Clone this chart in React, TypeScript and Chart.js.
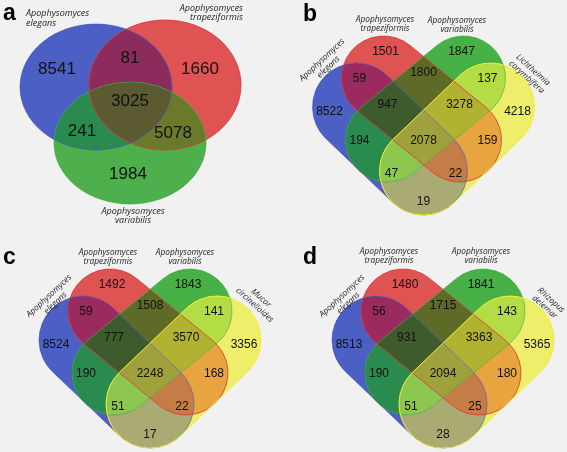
import React, { useEffect, useRef } from 'react';
import { Chart, registerables } from 'chart.js';

Chart.register(...registerables);

const W = 567;
const H = 452;

// ---------- data ----------
const panelLetters = ['a', 'b', 'c', 'd'];
const genus = 'Apophysomyces';
const setNamesA = [[genus, 'elegans'], [genus, 'trapeziformis'], [genus, 'variabilis']];
const setNamesB = [[genus, 'elegans'], [genus, 'trapeziformis'], [genus, 'variabilis'], ['Lichtheimia', 'corymbifera']];
const setNamesC = [[genus, 'elegans'], [genus, 'trapeziformis'], [genus, 'variabilis'], ['Mucor', 'circinelloides']];
const setNamesD = [[genus, 'elegans'], [genus, 'trapeziformis'], [genus, 'variabilis'], ['Rhizopus', 'delemar']];

// region masks: bit0 = set1, bit1 = set2, bit2 = set3, bit3 = set4
const masks3 = [1, 2, 3, 4, 5, 6, 7];
const masks4 = [1, 2, 3, 4, 5, 6, 7, 8, 9, 10, 11, 12, 13, 14, 15];
const countsA = [8541, 1660, 81, 1984, 241, 5078, 3025];
const countsB = [8522, 1501, 59, 1847, 194, 1800, 947, 4218, 19, 159, 22, 137, 47, 3278, 2078];
const countsC = [8524, 1492, 59, 1843, 190, 1508, 777, 3356, 17, 168, 22, 141, 51, 3570, 2248];
const countsD = [8513, 1480, 56, 1841, 190, 1715, 931, 5365, 28, 180, 25, 143, 51, 3363, 2094];

// ---------- layout (geometry in chart units) ----------
const BG = '#f1f1f1';
const shapes3 = [
  { kind: 'ellipse', cx: 96, cy: 87, rx: 76, ry: 63 },
  { kind: 'ellipse', cx: 165, cy: 85, rx: 76, ry: 65 },
  { kind: 'ellipse', cx: 130, cy: 143, rx: 76, ry: 61 },
];
const labelPos3: Record<number, [number, number]> = {
  1: [57, 68], 2: [200, 68], 3: [130, 57], 4: [128, 173], 5: [82, 130], 6: [173, 132], 7: [130, 100],
};
const shapes4 = [
  { kind: 'capsule', x1: -67, y1: -33, x2: 0, y2: 31, r: 44 },
  { kind: 'capsule', x1: -40, y1: -62, x2: 36, y2: 0, r: 42 },
  { kind: 'capsule', x1: 40, y1: -62, x2: -36, y2: 0, r: 42 },
  { kind: 'capsule', x1: 67, y1: -33, x2: 0, y2: 31, r: 44 },
];
const labelPos4: Record<number, [number, number]> = {
  1: [-94, -29], 2: [-38, -89], 3: [-64, -62], 4: [38, -89], 5: [-64, 0], 6: [0, -68], 7: [-36, -36],
  8: [94, -29], 9: [0, 61], 10: [64, 0], 11: [32, 33], 12: [64, -62], 13: [-32, 33], 14: [36, -36], 15: [0, 0],
};
const panelCenters: [number, number][] = [[423.5, 140], [150, 373], [443, 373]];
const colors3: Record<number, string> = {
  1: '#4b5fc5', 2: '#e05353', 3: '#8c2c5c', 4: '#4db04d', 5: '#2a8b4e', 6: '#6b7a2a', 7: '#5b5a31',
};
const colors4: Record<number, string> = {
  1: '#4b5fc5', 2: '#e05353', 3: '#9b2b5f', 4: '#47b047', 5: '#2a8b4e', 6: '#5d6b27', 7: '#3d5b2c',
  8: '#eeee6a', 9: '#a9ab72', 10: '#e8a43e', 11: '#c67c47', 12: '#b4dc44', 13: '#8dc74f', 14: '#b1b232', 15: '#9fa23c',
};
const strokes = ['rgba(50,70,185,0.55)', 'rgba(215,40,40,0.75)', 'rgba(40,160,40,0.55)', 'rgba(240,240,40,0.95)'];
const letterPos: [number, number][] = [[3, 20], [303, 21], [3, 264], [303, 264]];

type SetLabel = { x: number; y: number; rot: number; align: CanvasTextAlign; lh: number };
const setLabelsA: SetLabel[] = [
  { x: 26, y: 13, rot: 0, align: 'left', lh: 10 },
  { x: 243, y: 8, rot: 0, align: 'right', lh: 9.5 },
  { x: 133, y: 211, rot: 0, align: 'center', lh: 9.5 },
];
const setLabels4: SetLabel[][] = [
  [
    { x: 322, y: 60, rot: -43, align: 'center', lh: 9.5 },
    { x: 385, y: 20, rot: 0, align: 'center', lh: 8.5 },
    { x: 457, y: 21, rot: 0, align: 'center', lh: 8.5 },
    { x: 533, y: 70, rot: 42, align: 'center', lh: 9.5 },
  ],
  [
    { x: 49, y: 296, rot: -43, align: 'center', lh: 9.5 },
    { x: 108, y: 253, rot: 0, align: 'center', lh: 8.5 },
    { x: 185, y: 253, rot: 0, align: 'center', lh: 8.5 },
    { x: 261, y: 298, rot: 42, align: 'center', lh: 9.5 },
  ],
  [
    { x: 342, y: 296, rot: -43, align: 'center', lh: 9.5 },
    { x: 389, y: 252, rot: 0, align: 'center', lh: 8.5 },
    { x: 481, y: 252, rot: 0, align: 'center', lh: 8.5 },
    { x: 551, y: 300, rot: 42, align: 'center', lh: 9.5 },
  ],
];

// ---------- helpers ----------
function shapePath(ctx: CanvasRenderingContext2D, s: any, ox: number, oy: number, px: (v: number) => number, py: (v: number) => number) {
  ctx.beginPath();
  if (s.kind === 'ellipse') {
    const cx = px(ox + s.cx), cy = py(oy + s.cy);
    const rx = Math.abs(px(ox + s.cx + s.rx) - cx), ry = Math.abs(py(oy + s.cy + s.ry) - cy);
    ctx.ellipse(cx, cy, rx, ry, 0, 0, Math.PI * 2);
  } else {
    const x1 = px(ox + s.x1), y1 = py(oy + s.y1), x2 = px(ox + s.x2), y2 = py(oy + s.y2);
    const r = Math.abs(px(ox + s.r) - px(ox));
    const t = Math.atan2(y2 - y1, x2 - x1);
    ctx.arc(x2, y2, r, t - Math.PI / 2, t + Math.PI / 2);
    ctx.arc(x1, y1, r, t + Math.PI / 2, t + (3 * Math.PI) / 2);
    ctx.closePath();
  }
}

function drawVenn(chart: any, shapes: any[], masks: number[], colors: Record<number, string>, ox: number, oy: number) {
  const ctx: CanvasRenderingContext2D = chart.ctx;
  const px = (v: number) => chart.scales.x.getPixelForValue(v);
  const py = (v: number) => chart.scales.y.getPixelForValue(v);
  const off = document.createElement('canvas');
  off.width = chart.width;
  off.height = chart.height;
  const o = off.getContext('2d') as CanvasRenderingContext2D;
  masks.forEach((m) => {
    o.clearRect(0, 0, off.width, off.height);
    o.save();
    shapes.forEach((s, i) => {
      if (m & (1 << i)) {
        shapePath(o, s, ox, oy, px, py);
        o.clip();
      }
    });
    o.fillStyle = colors[m];
    o.fillRect(0, 0, off.width, off.height);
    o.restore();
    o.save();
    o.globalCompositeOperation = 'destination-out';
    shapes.forEach((s, i) => {
      if (!(m & (1 << i))) {
        shapePath(o, s, ox, oy, px, py);
        o.fill();
      }
    });
    o.restore();
    ctx.drawImage(off, 0, 0);
  });
  ctx.save();
  ctx.lineWidth = 1;
  shapes.forEach((s, i) => {
    shapePath(ctx, s, ox, oy, px, py);
    ctx.strokeStyle = strokes[i];
    ctx.stroke();
  });
  ctx.restore();
}

function drawSetLabel(ctx: CanvasRenderingContext2D, lines: string[], L: SetLabel, font: string) {
  ctx.save();
  ctx.translate(L.x, L.y);
  ctx.rotate((L.rot * Math.PI) / 180);
  ctx.font = font;
  ctx.fillStyle = '#1e1e1e';
  ctx.textAlign = L.align;
  ctx.textBaseline = 'middle';
  lines.forEach((t, k) => ctx.fillText(t, 0, k * L.lh));
  ctx.restore();
}

const vennPlugin = {
  id: 'vennPlugin',
  beforeDraw(chart: any) {
    const ctx = chart.ctx;
    ctx.save();
    ctx.fillStyle = BG;
    ctx.fillRect(0, 0, chart.width, chart.height);
    ctx.restore();
  },
  beforeDatasetsDraw(chart: any) {
    const ctx: CanvasRenderingContext2D = chart.ctx;
    drawVenn(chart, shapes3, masks3, colors3, 0, 0);
    panelCenters.forEach(([cx, cy]) => drawVenn(chart, shapes4, masks4, colors4, cx, cy));
    setNamesA.forEach((lines, i) => drawSetLabel(ctx, lines, setLabelsA[i], 'italic 9px "Open Sans"'));
    [setNamesB, setNamesC, setNamesD].forEach((names, p) =>
      names.forEach((lines, i) => drawSetLabel(ctx, lines, setLabels4[p][i], 'italic 8.3px "Open Sans"'))
    );
    ctx.save();
    ctx.fillStyle = '#000';
    ctx.font = 'bold 23px "Liberation Sans", Arial, sans-serif';
    ctx.textAlign = 'left';
    ctx.textBaseline = 'alphabetic';
    panelLetters.forEach((l, i) => ctx.fillText(l, letterPos[i][0], letterPos[i][1]));
    ctx.restore();
  },
  afterDatasetsDraw(chart: any) {
    const ctx: CanvasRenderingContext2D = chart.ctx;
    chart.data.datasets.forEach((ds: any, di: number) => {
      const meta = chart.getDatasetMeta(di);
      ctx.save();
      ctx.fillStyle = '#111';
      ctx.font = `${di === 0 ? 17 : 12}px "Liberation Sans", Arial, sans-serif`;
      ctx.textAlign = 'center';
      ctx.textBaseline = 'middle';
      meta.data.forEach((el: any, i: number) => {
        ctx.fillText(String(ds.data[i].v), el.x, el.y + 1);
      });
      ctx.restore();
    });
  },
};

function buildDatasets() {
  const dsA = {
    label: 'a',
    data: masks3.map((m, i) => ({ x: labelPos3[m][0], y: labelPos3[m][1], v: countsA[i] })),
    pointRadius: 0,
  };
  const ds4 = [countsB, countsC, countsD].map((counts, p) => ({
    label: panelLetters[p + 1],
    data: masks4.map((m, i) => ({
      x: panelCenters[p][0] + labelPos4[m][0],
      y: panelCenters[p][1] + labelPos4[m][1],
      v: counts[i],
    })),
    pointRadius: 0,
  }));
  return [dsA, ...ds4];
}

export default function App() {
  const ref = useRef<HTMLCanvasElement>(null);
  useEffect(() => {
    document.body.style.margin = '0';
    const chart = new Chart(ref.current as HTMLCanvasElement, {
      type: 'scatter',
      data: { datasets: buildDatasets() as any },
      options: {
        responsive: false,
        animation: false,
        devicePixelRatio: 1,
        layout: { padding: 0 },
        scales: {
          x: { type: 'linear', min: 0, max: W, display: false },
          y: { type: 'linear', min: 0, max: H, reverse: true, display: false },
        },
        plugins: { legend: { display: false }, tooltip: { enabled: false } },
      },
      plugins: [vennPlugin as any],
    });
    return () => chart.destroy();
  }, []);
  return (
    <div style={{ width: W, height: H }}>
      <canvas ref={ref} width={W} height={H} style={{ display: 'block' }} />
    </div>
  );
}
